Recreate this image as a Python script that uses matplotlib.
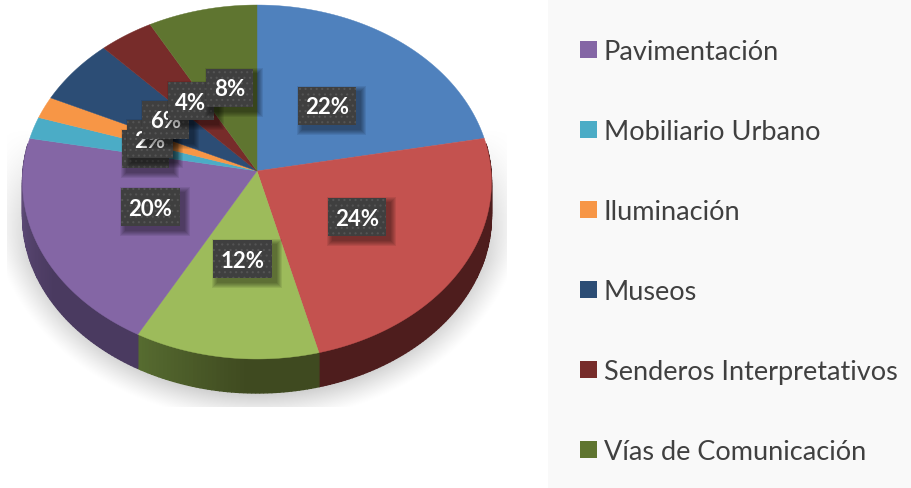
import matplotlib
matplotlib.use('Agg')
import matplotlib.pyplot as plt
from matplotlib.colors import to_rgb
from matplotlib.patches import Patch, Rectangle
import numpy as np

plt.rcParams['font.family'] = ['Lato', 'DejaVu Sans']
plt.rcParams['hatch.linewidth'] = 0.8

categories = ['Parques', 'Plazas', 'Mercados', 'Pavimentación', 'Mobiliario Urbano',
              'Iluminación', 'Museos', 'Senderos Interpretativos', 'Vías de Comunicación']
values = [22, 24, 12, 20, 2, 2, 6, 4, 8]
colors = ['#4f81bd', '#c4524f', '#9dbb5b', '#8466a5', '#4bacc6', '#f79646', '#2c4d75', '#772c2a', '#5f7530']
wall_dark = ['#2c4a6e', '#4e1d1d', '#3f4a20', '#4a3a60', '#2a6070', '#8a5020', '#1a2d45', '#451a18', '#3a4620']
wall_light = ['#2c4a6e', '#4e1d1d', '#566b30', '#65507f', '#2a6070', '#8a5020', '#1a2d45', '#451a18', '#3a4620']
legend_order = [3, 4, 5, 6, 7, 8]
box_pos = [(298, 88, 58), (328, 199, 58), (213, 241, 59), (121, 189, 59), (122, 131, 47),
           (127, 121, 46), (142, 102, 47), (168, 83, 46), (206, 70, 47)]

# pie geometry in pixels
cx, cy = 257, 172
rx, ry = 234, 176.3
persp = 0.0621
depth = 34


def rim(theta):
    # theta is clockwise from the top, tilted circle with a bit of perspective
    u = np.cos(theta)
    v = np.sin(theta)
    w = 1 + persp * u
    return cx + rx * v / w, cy - ry * u / w


fig = plt.figure(figsize=(9.11, 4.89), dpi=100)
ax = fig.add_axes([0, 0, 1, 1])
ax.set_xlim(0, 911)
ax.set_ylim(489, 0)
ax.axis('off')

# legend panel
ax.add_patch(Rectangle((548, 0), 363, 489, facecolor='#f9f9f9', edgecolor='none', zorder=0))

# soft shadow under the pie, cut off in a rectangle like the original
xs, ys = np.meshgrid(np.arange(7, 507), np.arange(130, 408))
d = np.sqrt(((xs - 257) / 268.0) ** 2 + ((ys - 200) / 222.0) ** 2)
alpha = np.clip((1 - d) / 0.16, 0, 1) ** 1.2
alpha = alpha * np.clip((ys - 130) / 130.0, 0, 1)
shade = np.ones(xs.shape + (4,))
shade[..., :3] = 0.72
shade[..., 3] = alpha * 0.9
ax.imshow(shade, extent=(7, 507, 408, 130), interpolation='bilinear', aspect='auto', zorder=1)
ax.set_xlim(0, 911)
ax.set_ylim(489, 0)

edges = np.cumsum([0] + values) / sum(values) * 2 * np.pi

# side wall, split in thin strips for the gradient
for i in range(len(values)):
    th = np.linspace(edges[i], edges[i + 1], max(3, values[i] * 4))
    c0 = np.array(to_rgb(wall_light[i]))
    c1 = np.array(to_rgb(wall_dark[i]))
    for j in range(len(th) - 1):
        t0, t1 = th[j], th[j + 1]
        if np.cos((t0 + t1) / 2) > 0.15:
            continue
        x0, y0 = rim(t0)
        x1, y1 = rim(t1)
        # theta runs right to left along the front, so the light end is the last strip
        f = min(1, (len(th) - 2 - j) / (0.6 * (len(th) - 1)))
        col = c0 + (c1 - c0) * f
        ax.fill([x0, x1, x1, x0], [y0, y1, y1 + depth, y0 + depth], facecolor=col, edgecolor=col,
                lw=1.0, zorder=2)

# top of the pie
for i in range(len(values)):
    th = np.linspace(edges[i], edges[i + 1], 80)
    x, y = rim(th)
    ax.fill(np.r_[cx, x], np.r_[cy, y], color=colors[i], lw=0.3, zorder=3)

# data labels
for i, val in enumerate(values):
    bx, by, bw = box_pos[i]
    bh = 38
    z = 5 + i
    for k in range(6, 0, -1):
        ax.add_patch(Rectangle((bx + 5 - k, by + 5 - k), bw + 2 * k - 1, bh + 2 * k - 1,
                               facecolor='black', edgecolor='none', alpha=0.08, zorder=z))
    ax.add_patch(Rectangle((bx, by), bw, bh, facecolor='#3f3f3f', edgecolor='#545454',
                           hatch='...', lw=0, zorder=z))
    ax.text(bx + bw / 2, by + bh / 2 + 1, f'{val}%', color='white', fontsize=16, fontweight='bold',
            ha='center', va='center', zorder=z)

handles = [Patch(facecolor=colors[i], edgecolor='none', label=categories[i]) for i in legend_order]
leg = ax.legend(handles=handles, loc='upper left', bbox_to_anchor=(580 / 911, 1 - 40 / 489),
                frameon=False, fontsize=19.5, labelcolor='#404040', borderpad=0, borderaxespad=0,
                handlelength=0.62, handleheight=0.62, handletextpad=0.25, labelspacing=2.03)
leg.set_zorder(20)

fig.savefig('out.png', dpi=100)
